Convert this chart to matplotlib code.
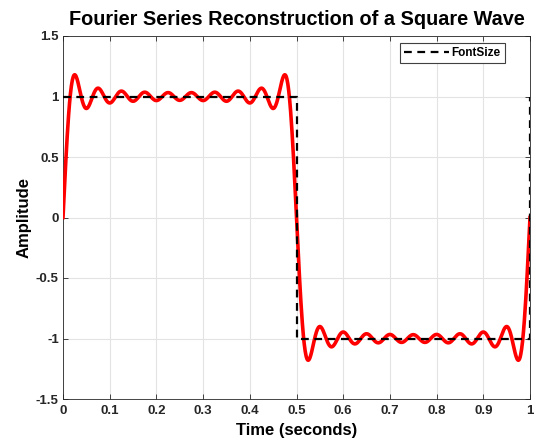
import numpy as np
import matplotlib
matplotlib.use("Agg")
import matplotlib.pyplot as plt

plt.rcParams['font.family'] = ['Liberation Sans', 'DejaVu Sans']

# harmonics used in the partial sum (odd only)
harmonics = [1, 3, 5, 7, 9, 11, 13, 15, 17, 19]
period = 1.0

# ideal square wave breakpoints
square_t = [0.0, 0.5, 0.5, 1.0, 1.0]
square_y = [1, 1, -1, -1, 1]

xticks = [0, 0.1, 0.2, 0.3, 0.4, 0.5, 0.6, 0.7, 0.8, 0.9, 1]
xticklabels = ['0', '0.1', '0.2', '0.3', '0.4', '0.5', '0.6', '0.7', '0.8', '0.9', '1']
yticks = [-1.5, -1, -0.5, 0, 0.5, 1, 1.5]
yticklabels = ['-1.5', '-1', '-0.5', '0', '0.5', '1', '1.5']

t = np.linspace(0, 1, 1000)
recon = np.zeros_like(t)
for n in harmonics:
    recon += 4 / (np.pi * n) * np.sin(2 * np.pi * n * t / period)

fig = plt.figure(figsize=(5.39, 4.41), dpi=100)
ax = fig.add_axes([63/539, 1 - 399/441, (530-63)/539, (399-36)/441])

ax.plot(t, recon, color='red', lw=2.6, zorder=3)
ax.plot(square_t, square_y, 'k--', lw=1.6, dashes=(3.5, 2.5), label='FontSize', zorder=4)

ax.set_xlim(0, 1)
ax.set_ylim(-1.5, 1.5)
ax.set_xticks(xticks)
ax.set_xticklabels(xticklabels)
ax.set_yticks(yticks)
ax.set_yticklabels(yticklabels)
ax.grid(True, color='#e3e3e3', lw=0.8)
ax.set_axisbelow(True)
ax.tick_params(direction='in', top=True, right=True, length=3.5, width=0.6,
               colors='#262626', labelsize=9.5)
ax.tick_params(axis='x', pad=4.5)
ax.tick_params(axis='y', pad=3)
for lab in ax.get_xticklabels() + ax.get_yticklabels():
    lab.set_fontweight('bold')
for s in ax.spines.values():
    s.set_color('#262626')
    s.set_linewidth(0.6)

ax.set_title('Fourier Series Reconstruction of a Square Wave', fontsize=14.3,
             fontweight='bold', pad=8)
ax.set_xlabel('Time (seconds)', fontsize=12, fontweight='bold', labelpad=4)
ax.set_ylabel('Amplitude', fontsize=12, fontweight='bold', labelpad=3)

leg = ax.legend(loc='upper right', bbox_to_anchor=(0.946, 0.981), borderaxespad=0,
                prop={'weight': 'bold', 'size': 8.5},
                fancybox=False, framealpha=1, edgecolor='#404040',
                handlelength=3.8, handletextpad=0.25, borderpad=0.35)
leg.get_frame().set_linewidth(0.8)

fig.savefig('out.png', dpi=100)
